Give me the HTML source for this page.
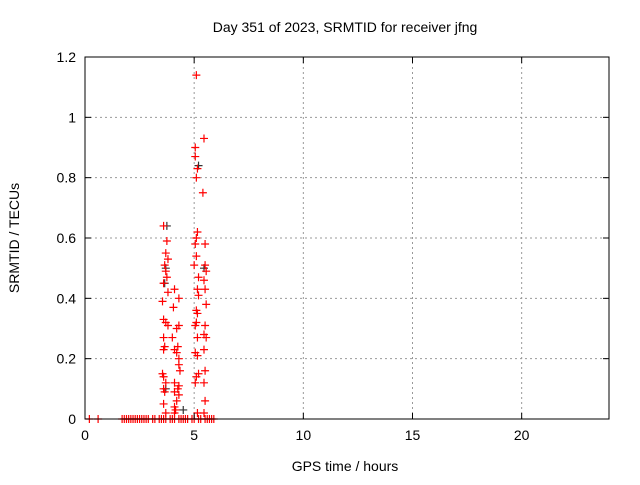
<!DOCTYPE html>
<html><head><meta charset="utf-8"><style>
body{margin:0;background:#fff}
svg text{font-family:"Liberation Sans",sans-serif;font-size:14px;fill:#000}
</style></head><body>
<svg id="chart" width="640" height="480" xmlns="http://www.w3.org/2000/svg">
<rect width="640" height="480" fill="#fff"/>
<g id="grid"></g><g id="pts"></g><g id="axes"></g>
<text x="345" y="32" text-anchor="middle">Day 351 of 2023, SRMTID for receiver jfng</text>
<text x="345" y="471" text-anchor="middle">GPS time / hours</text>
<text transform="translate(19,238) rotate(-90)" text-anchor="middle">SRMTID / TECUs</text>
</svg>
<script>
const xTicks=[0,5,10,15,20];
const yTicks=[0,0.2,0.4,0.6,0.8,1,1.2];
const yTickLabels=["0","0.2","0.4","0.6","0.8","1","1.2"];
const redHours=[3.6,3.75,3.7,3.8,3.65,3.7,3.75,3.6,3.8,3.55,3.6,3.7,3.8,3.6,3.65,3.6,3.55,3.6,3.7,3.6,3.65,3.6,3.7,
4.1,4.3,4.05,4.3,4.2,4.0,4.25,4.1,4.2,4.3,4.3,4.35,4.1,4.3,4.25,4.1,4.3,4.2,4.1,4.15,4.1,
5.1,5.05,5.05,5.15,5.1,5.15,5.1,5.05,5.1,5.0,5.2,5.15,5.2,5.1,5.15,5.1,5.05,5.15,5.05,5.15,5.2,5.1,5.05,5.15,
5.45,5.4,5.5,5.5,5.55,5.45,5.5,5.55,5.5,5.45,5.55,5.45,5.5,5.45,5.5,5.45,
0.2,0.6,1.7,1.8,1.9,2.0,2.1,2.2,2.3,2.4,2.5,2.6,2.7,2.8,2.9,3.1,3.2,3.4,3.5,3.6,3.7,3.9,4.0,4.1,4.3,4.4,4.5,4.6,4.7,4.9,5.0,5.2,5.3,5.5,5.6,5.7,5.8,5.9];
const redValues=[0.64,0.59,0.55,0.53,0.51,0.49,0.47,0.45,0.42,0.39,0.33,0.32,0.31,0.27,0.24,0.23,0.15,0.14,0.12,0.10,0.09,0.05,0.02,
0.43,0.40,0.37,0.31,0.30,0.27,0.24,0.23,0.22,0.20,0.18,0.16,0.12,0.11,0.10,0.09,0.08,0.06,0.04,0.03,0.02,
1.14,0.90,0.87,0.83,0.80,0.62,0.60,0.58,0.54,0.51,0.47,0.43,0.41,0.36,0.35,0.32,0.31,0.27,0.22,0.21,0.15,0.14,0.12,0.02,
0.93,0.75,0.58,0.51,0.49,0.46,0.43,0.38,0.31,0.28,0.27,0.23,0.16,0.12,0.06,0.02,
0,0,0,0,0,0,0,0,0,0,0,0,0,0,0,0,0,0,0,0,0,0,0,0,0,0,0,0,0,0,0,0,0,0,0,0,0,0];
const darkHours=[3.7,3.75,5.2,3.7,4.5,5.45,3.65];
const darkValues=[0.5,0.64,0.84,0.1,0.03,0.5,0.45];
const X0=85,X1=609,Y0=419,Y1=57;
const sx=h=>X0+h/24*(X1-X0), sy=v=>Y0-v/1.2*(Y0-Y1);
const NS="http://www.w3.org/2000/svg";
function mk(t,a,p){const e=document.createElementNS(NS,t);for(const k in a)e.setAttribute(k,a[k]);p.appendChild(e);return e;}
const grid=document.getElementById('grid'),axes=document.getElementById('axes'),pts=document.getElementById('pts');
xTicks.forEach(t=>{
 if(t>0){const g=mk('line',{x1:sx(t),x2:sx(t),y1:Y1,y2:Y0,stroke:'#999','stroke-dasharray':'2,3'},grid);
 
 }
 mk('line',{x1:sx(t),x2:sx(t),y1:Y0,y2:Y0-6,stroke:'#000'},axes);
 mk('line',{x1:sx(t),x2:sx(t),y1:Y1,y2:Y1+6,stroke:'#000'},axes);
 const l=mk('text',{x:sx(t),y:Y0+21,'text-anchor':'middle'},axes);l.textContent=t;
 
 
});
yTicks.forEach((t,i)=>{
 if(t>0&&t<1.2){const g=mk('line',{x1:X0,x2:X1,y1:sy(t),y2:sy(t),stroke:'#999','stroke-dasharray':'2,3'},grid);
 
 }
 mk('line',{x1:X0,x2:X0+6,y1:sy(t),y2:sy(t),stroke:'#000'},axes);
 mk('line',{x1:X1,x2:X1-6,y1:sy(t),y2:sy(t),stroke:'#000'},axes);
 const l=mk('text',{x:X0-9,y:sy(t)+5,'text-anchor':'end'},axes);l.textContent=yTickLabels[i];
 
 
});
const fr=mk('rect',{x:X0,y:Y1,width:X1-X0,height:Y0-Y1,fill:'none',stroke:'#000'},axes);


function cross(h,v,c){const x=sx(h),y=sy(v);
 const p=mk('path',{d:`M${x-4},${y}h8M${x},${y-4}v8`,stroke:c,'stroke-width':1.2},pts);
 
 }
darkHours.forEach((h,i)=>cross(h,darkValues[i],'#333'));
redHours.forEach((h,i)=>cross(h,redValues[i],'#f00'));
</script>
</body></html>
